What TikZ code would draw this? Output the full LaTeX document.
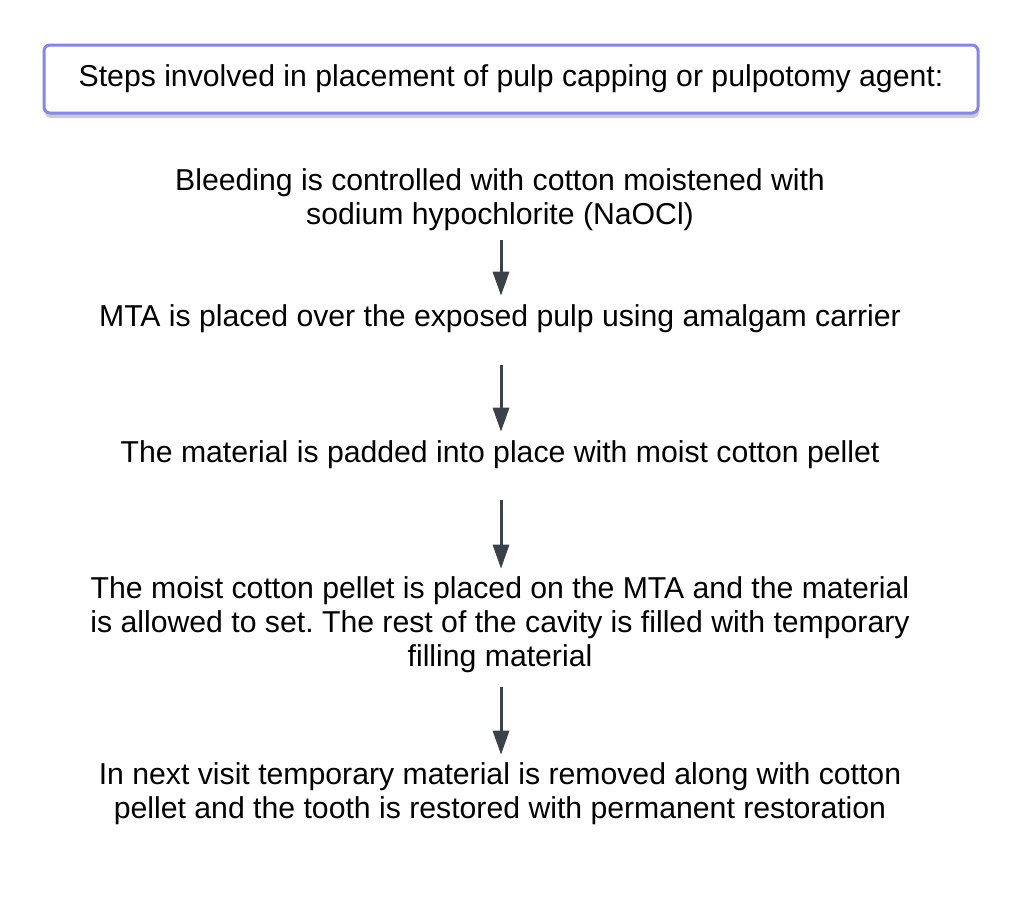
\documentclass[tikz,border=0pt]{standalone}
\usepackage{fontspec}
\setmainfont{Liberation Sans}
\usetikzlibrary{calc}
\usetikzlibrary{positioning}
\usetikzlibrary{arrows.meta}
\usetikzlibrary{shadows}
\definecolor{boxline}{HTML}{8585F2}
\definecolor{arrowgray}{HTML}{3B4149}
\tikzstyle{headnode} = [draw=boxline, line width=3pt, rounded corners=6pt, fill=white, minimum width=934pt, minimum height=68pt, align=center, drop shadow={shadow xshift=1pt, shadow yshift=-5pt, opacity=0.4}]
\tikzstyle{stepnode} = [align=center, inner sep=0pt]
\tikzstyle{steparrow} = [draw=arrowgray, line width=3pt, -{Triangle[length=24pt, width=16pt]}]
\frenchspacing

\begin{document}
\begin{tikzpicture}[x=1pt, y=-1pt, font=\fontsize{30.2}{34}\selectfont]
\useasboundingbox (0,0) rectangle (1024,918);
\node[headnode] (head) at (511,79) {Steps involved in placement of pulp capping or pulpotomy agent:};
\node[stepnode] (bleed) at (500,200) {Bleeding is controlled with cotton moistened with\\sodium hypochlorite (NaOCl)};
\node[stepnode] (place) at (500,319) {MTA is placed over the exposed pulp using amalgam carrier};
\node[stepnode] (pad) at (500,455) {The material is padded into place with moist cotton pellet};
\node[stepnode] (set) at (500,625) {The moist cotton pellet is placed on the MTA and the material\\is allowed to set. The rest of the cavity is filled with temporary\\filling material};
\node[stepnode] (visit) at (500,794) {In next visit temporary material is removed along with cotton\\pellet and the tooth is restored with permanent restoration};
\draw[steparrow] ($(bleed.south)+(1,9)$) -- ($(place.north)+(1,-9)$);
\draw[steparrow] ($(place.south)+(1,32)$) -- ($(pad.north)+(1,-9)$);
\draw[steparrow] ($(pad.south)+(1,31)$) -- ($(set.north)+(1,-8)$);
\draw[steparrow] ($(set.south)+(1,14)$) -- ($(visit.north)+(1,-8)$);
\end{tikzpicture}
\end{document}
